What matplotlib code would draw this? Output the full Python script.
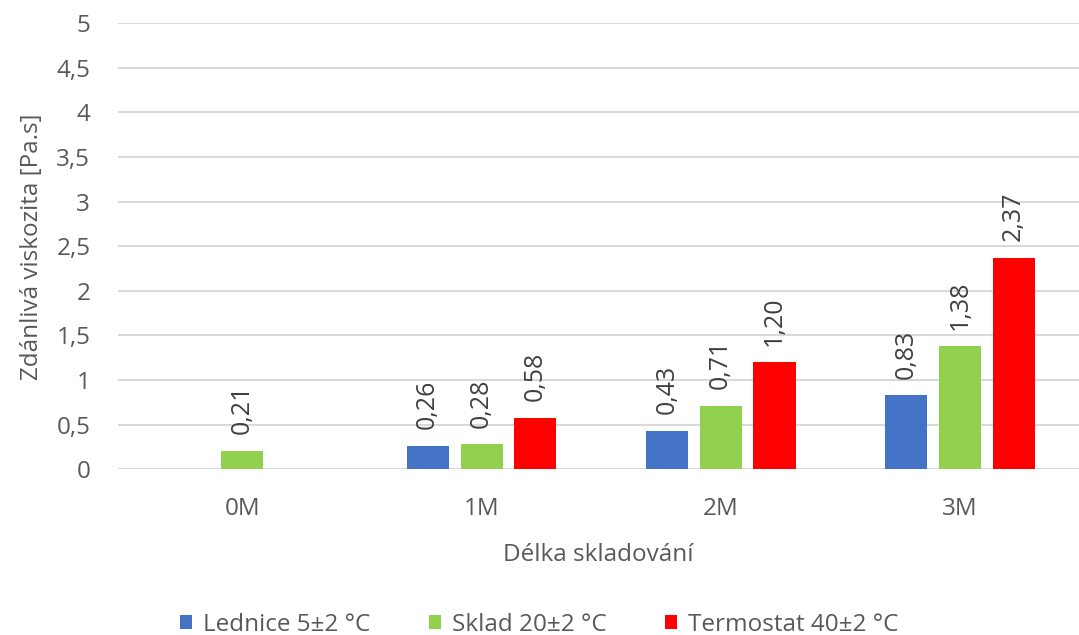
import numpy as np
import matplotlib
matplotlib.use("Agg")
import matplotlib.pyplot as plt

categories = ["0M", "1M", "2M", "3M"]
series_names = ["Lednice 5±2 °C", "Sklad 20±2 °C", "Termostat 40±2 °C"]
lednice = [np.nan, 0.26, 0.43, 0.83]
sklad = [0.21, 0.28, 0.71, 1.38]
termostat = [np.nan, 0.58, 1.20, 2.37]
colors = ["#4472C4", "#92D050", "#FF0000"]
y_ticks = [0, 0.5, 1, 1.5, 2, 2.5, 3, 3.5, 4, 4.5, 5]

plt.rcParams["font.family"] = ["Open Sans", "DejaVu Sans"]
text_color = "#595959"
fs = 17.5

fig = plt.figure(figsize=(10.79, 6.35), dpi=100)
ax = fig.add_axes([0.1094, 0.261, 0.891, 0.7023])

series = [lednice, sklad, termostat]
x = np.arange(len(categories))
step = 0.225
width = 0.176

for i, (name, vals, col) in enumerate(zip(series_names, series, colors)):
    vals = np.array(vals, dtype=float)
    pos = []
    for j in range(len(categories)):
        present = [k for k in range(len(series)) if not np.isnan(series[k][j])]
        if i not in present:
            pos.append(np.nan)
            continue
        idx = present.index(i)
        pos.append(x[j] + (idx - (len(present) - 1) / 2) * step)
    pos = np.array(pos)
    mask = ~np.isnan(vals)
    ax.bar(pos[mask], vals[mask], width=width, color=col, label=name, zorder=3)
    for px, v in zip(pos[mask], vals[mask]):
        ax.annotate(f"{v:.2f}".replace(".", ","), (px, v), xytext=(0, 12),
                    textcoords="offset points", rotation=90, ha="center",
                    va="bottom", fontsize=18, color="#404040")

ax.set_xlim(-0.52, 3.5)
ax.set_ylim(0, 5)
ax.set_yticks(y_ticks)
ax.set_yticklabels([f"{t:g}".replace(".", ",") for t in y_ticks])
ax.set_xticks(x)
ax.set_xticklabels(categories)
ax.yaxis.grid(True, color="#d9d9d9", linewidth=1.5, zorder=0)
ax.set_axisbelow(True)
for s in ax.spines.values():
    s.set_visible(False)
ax.tick_params(axis="both", length=0, labelsize=fs, colors=text_color)
ax.tick_params(axis="y", pad=20)
ax.tick_params(axis="x", pad=20)
ax.set_xlabel("Délka skladování", fontsize=fs, color=text_color, labelpad=16)
ax.set_ylabel("Zdánlivá viskozita [Pa.s]", fontsize=fs, color=text_color, labelpad=9)

leg = fig.legend(loc="lower center", bbox_to_anchor=(0.5, -0.037), ncol=3,
                 frameon=False, fontsize=fs, handlelength=0.5, handleheight=0.5,
                 handletextpad=0.45, columnspacing=2.4)
for t in leg.get_texts():
    t.set_color(text_color)

fig.savefig("out.png", dpi=100)
